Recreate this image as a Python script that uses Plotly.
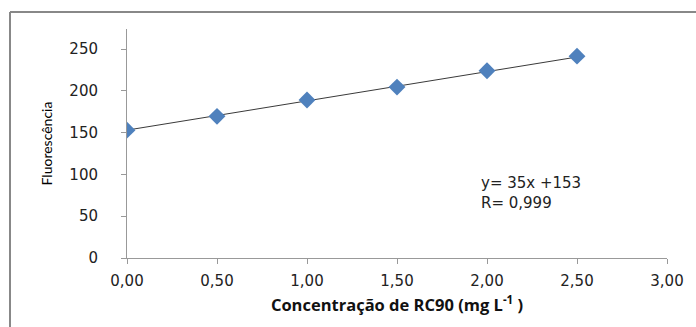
import plotly.graph_objects as go

conc = [0.0, 0.5, 1.0, 1.5, 2.0, 2.5]
fluor = [153, 169.5, 189, 204.5, 224, 241.5]
slope = 35
intercept = 153
trend_x = [0.0, 2.5]
trend_y = [intercept + slope * x for x in trend_x]
x_ticks = [0, 0.5, 1.0, 1.5, 2.0, 2.5, 3.0]
x_ticktext = ["0,00", "0,50", "1,00", "1,50", "2,00", "2,50", "3,00"]
y_ticks = [0, 50, 100, 150, 200, 250]

W, H = 696, 327
L, R, T, B = 127, 29, 29, 69
pw, ph = W - L - R, H - T - B

fig = go.Figure()
fig.add_trace(go.Scatter(x=trend_x, y=trend_y, mode="lines",
                         line=dict(color="#3a3a3a", width=1), showlegend=False))
fig.add_trace(go.Scatter(x=conc, y=fluor, mode="markers",
                         marker=dict(symbol="diamond", size=13, color="#4F81BD"),
                         showlegend=False))

tickfont = dict(family="DejaVu Sans", size=15, color="#222")
fig.update_layout(
    width=W, height=H,
    margin=dict(l=L, r=R, t=T, b=B, autoexpand=False),
    paper_bgcolor="white", plot_bgcolor="white",
    xaxis=dict(range=[0, 3], tickvals=x_ticks, ticktext=x_ticktext, automargin=False,
               showgrid=False, zeroline=False, showline=True, linecolor="#999",
               linewidth=1, ticks="outside", ticklen=5, tickcolor="#999",
               tickfont=tickfont, ticklabelstandoff=4,
               title=dict(text="<b>Concentração de RC90 (mg L<sup>-1</sup> )</b>",
                          font=dict(family="Open Sans", size=16.5, color="#111"), standoff=10)),
    yaxis=dict(range=[0, 274], tickvals=y_ticks, showgrid=False, zeroline=False,
               automargin=False,
               showline=True, linecolor="#999", linewidth=1, ticks="outside",
               ticklen=5, tickcolor="#999", tickfont=tickfont, ticklabelstandoff=20,
               title=dict(text="Fluorescência",
                          font=dict(family="Lato", size=14, color="#000"),
                          standoff=13)),
    shapes=[
        dict(type="line", xref="paper", yref="paper", x0=(10 - L) / pw, x1=(W - L) / pw,
             y0=(H - B - 12) / ph, y1=(H - B - 12) / ph, line=dict(color="#888", width=2)),
        dict(type="line", xref="paper", yref="paper", x0=(10 - L) / pw, x1=(10 - L) / pw,
             y0=-B / ph, y1=(H - B - 12) / ph, line=dict(color="#888", width=2)),
    ],
    annotations=[
        dict(x=1.955, y=78, xref="x", yref="y", xanchor="left", yanchor="middle",
             showarrow=False, align="left",
             text="y= 35x +153<br>R= 0,999",
             font=dict(family="DejaVu Sans", size=15, color="#222")),
    ],
)
fig.write_html("out.html", config={"displayModeBar": False},
               post_script="document.body.style.margin='0';document.body.style.overflow='hidden';")
